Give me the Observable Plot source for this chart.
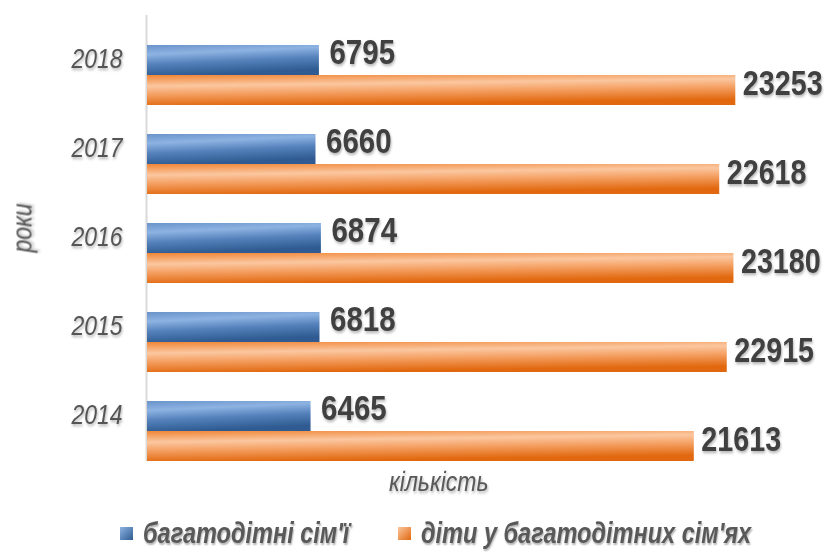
<!DOCTYPE html>
<html>
<head>
<meta charset="utf-8">
<script src="https://cdn.jsdelivr.net/npm/d3@7"></script>
<script src="https://cdn.jsdelivr.net/npm/@observablehq/plot@0.6"></script>
<style>
  body { margin: 0; background: #fff; }
  #wrap { width: 829px; position: relative; }
  #legend { position: relative; width: 829px; height: 44px; font-family: "Liberation Sans", Arial, sans-serif; }
  .item { position: absolute; top: 8px; height: 30px; display: flex; align-items: center; }
  .sw { width: 13px; height: 13px; display: inline-block; }
  .lt { display: inline-block; white-space: nowrap; transform: scaleX(0.82); transform-origin: 0 50%;
        font-weight: bold; font-style: italic; font-size: 28.7px; color: #595959; margin-left: 10px;
        text-shadow: 1px 2px 2px rgba(0,0,0,0.3); }
</style>
</head>
<body>
<div id="wrap"></div>
<script>
const years = ["2018", "2017", "2016", "2015", "2014"];
const families = [6795, 6660, 6874, 6818, 6465];
const children = [23253, 22618, 23180, 22915, 21613];
const seriesNames = ["багатодітні сім'ї", "діти у багатодітних сім'ях"];
const xTitle = "кількість";
const yTitle = "роки";

const rows = years.map((y, i) => ({year: y, families: families[i], children: children[i]}));
const font = "Liberation Sans, Arial, sans-serif";
const SX = 0.82; // horizontal squeeze for an Arial Narrow look

const chart = Plot.plot({
  width: 829,
  height: 510,
  marginLeft: 147,
  marginRight: 49.5,
  marginTop: 15,
  marginBottom: 49,
  style: {fontFamily: font, background: "#fff", overflow: "visible"},
  x: {domain: [0, 25000], axis: null},
  y: {domain: years, range: [30.5, 475.5], paddingInner: 0.326, paddingOuter: 0.163, axis: null},
  marks: [
    Plot.ruleX([0], {stroke: "#d9d9d9", strokeWidth: 2, dx: -1}),
    Plot.barX(rows, {x: "families", y: "year", insetBottom: 30, fill: "url(#gBlue)"}),
    Plot.barX(rows, {x: "children", y: "year", insetTop: 30, fill: "url(#gOrange)"}),
    Plot.text(rows, {x: "families", y: "year", text: d => String(d.families), textAnchor: "start",
      dx: 10, dy: -23, fontSize: 36, fontWeight: "bold", fill: "#404040"}),
    Plot.text(rows, {x: "children", y: "year", text: d => String(d.children), textAnchor: "start",
      dx: 7, dy: 8, fontSize: 35, fontWeight: "bold", fill: "#404040"}),
    Plot.text(years, {y: d => d, text: d => d, frameAnchor: "left", textAnchor: "end",
      dx: -25, dy: -16, fontSize: 28, fontStyle: "italic", fill: "#555555"}),
    Plot.text([xTitle], {frameAnchor: "bottom", dx: -25, dy: 29, fontSize: 28, fontStyle: "italic", fill: "#595959"}),
    Plot.text([yTitle], {frameAnchor: "left", dx: -125, dy: 14, rotate: -90, fontSize: 28, fontStyle: "italic", fill: "#595959"})
  ]
});

// gradients
const defs = d3.create("svg:defs");
const gb = defs.append("linearGradient").attr("id", "gBlue").attr("x1", 0).attr("y1", 0).attr("x2", 0.25).attr("y2", 1);
[[0, "#6a93ca"], [0.3, "#8db3e2"], [0.6, "#5783bd"], [1, "#2f5b92"]].forEach(([o, c]) =>
  gb.append("stop").attr("offset", o).attr("stop-color", c));
const go = defs.append("linearGradient").attr("id", "gOrange").attr("x1", 0).attr("y1", 0).attr("x2", 0.25).attr("y2", 1);
[[0, "#f08535"], [0.35, "#fbc7a0"], [0.6, "#f5a266"], [1, "#e1680e"]].forEach(([o, c]) =>
  go.append("stop").attr("offset", o).attr("stop-color", c));
chart.insertBefore(defs.node(), chart.firstChild);

document.getElementById("wrap").appendChild(chart);

// squeeze texts horizontally (in their own frame) with a transform; anchors stay in place
chart.querySelectorAll("text").forEach(t => {
  const tr = t.getAttribute("transform") || "";
  t.setAttribute("transform", (tr + ` scale(${SX},1)`).trim());
  t.style.filter = "drop-shadow(1px 2px 1.5px rgba(0,0,0,0.3))";
});

// legend
const legend = document.createElement("div");
legend.id = "legend";
const items = [
  {left: 120, name: seriesNames[0], bg: "linear-gradient(135deg, #8db3e2, #2f5b92)"},
  {left: 398, name: seriesNames[1], bg: "linear-gradient(135deg, #fbc7a0, #e1680e)"}
];
items.forEach(it => {
  const d = document.createElement("div");
  d.className = "item";
  d.style.left = it.left + "px";
  const sw = document.createElement("span");
  sw.className = "sw";
  sw.style.background = it.bg;
  const lt = document.createElement("span");
  lt.className = "lt";
  lt.textContent = it.name;
  d.appendChild(sw);
  d.appendChild(lt);
  legend.appendChild(d);
});
document.getElementById("wrap").appendChild(legend);
</script>
</body>
</html>
